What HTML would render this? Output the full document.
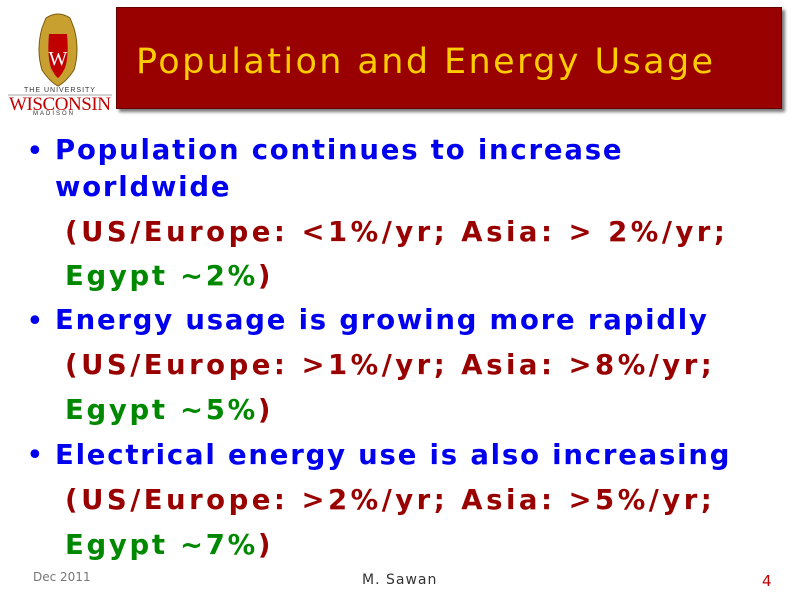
<!DOCTYPE html>
<html><head><style>
body{margin:0;width:800px;height:600px;background:#fff;position:relative;overflow:hidden;font-family:"DejaVu Sans","Liberation Sans",sans-serif}
.hdr{position:absolute;left:116px;top:7px;width:664px;height:100px;background:#990000;border:1px solid #600;box-shadow:3px 3px 3px #777}
.title{position:absolute;left:136px;top:42px;font-size:35px;color:#ffcc00;white-space:nowrap;letter-spacing:2.4px}
.t{position:absolute;font-weight:bold;font-size:27.5px;white-space:nowrap;line-height:30px;letter-spacing:1.8px}
.rl{letter-spacing:3.5px}.gl{letter-spacing:2.7px}
.b{color:#0000ee}.r{color:#990000}.g{color:#008800}
.dot{position:absolute;left:26px;font-size:30px;color:#0000ee;line-height:30px}
</style></head><body>
<svg style="position:absolute;left:6px;top:10px" width="108" height="104">
<path d="M40 8 Q52 0 64 8 L68 18 Q74 40 68 60 Q60 72 52 76 Q44 72 36 60 Q30 40 36 18Z" fill="#c8a030" stroke="#7a5a10"/>
<path d="M43 24 L61 24 Q63 46 59 58 Q55 66 52 68 Q49 66 45 58 Q41 46 43 24Z" fill="#c00000"/>
<text x="52" y="55" font-size="20" fill="#fff" text-anchor="middle" font-family="Liberation Serif">W</text>
<text x="54" y="82" font-size="7" fill="#333" text-anchor="middle" font-family="Liberation Sans" letter-spacing="1">THE UNIVERSITY</text>
<text x="54" y="100" font-size="19" fill="#c00000" text-anchor="middle" font-family="Liberation Serif" textLength="102">WISCONSIN</text>
<line x1="2" y1="85" x2="106" y2="85" stroke="#888" stroke-width="0.7"/>
</svg>
<div style="position:absolute;left:33px;top:111px;font-size:6px;letter-spacing:2px;color:#333;font-family:'Liberation Sans'">MADISON</div>
<div class="hdr"></div>
<div class="title">Population and Energy Usage</div>
<div class="dot" style="top:137px">•</div>
<div class="t b" style="left:55px;top:135px">Population continues to increase</div>
<div class="t b" style="left:55px;top:172px">worldwide</div>
<div class="t r rl" style="left:65px;top:217px">(US/Europe: &lt;1%/yr; Asia: &gt; 2%/yr;</div>
<div class="t gl" style="left:65px;top:261px"><span class="g">Egypt ~2%</span><span class="r">)</span></div>
<div class="dot" style="top:307px">•</div>
<div class="t b" style="left:55px;top:305px">Energy usage is growing more rapidly</div>
<div class="t r rl" style="left:65px;top:350px">(US/Europe: &gt;1%/yr; Asia: &gt;8%/yr;</div>
<div class="t gl" style="left:65px;top:395px"><span class="g">Egypt ~5%</span><span class="r">)</span></div>
<div class="dot" style="top:441px">•</div>
<div class="t b" style="left:55px;top:440px">Electrical energy use is also increasing</div>
<div class="t r rl" style="left:65px;top:485px">(US/Europe: &gt;2%/yr; Asia: &gt;5%/yr;</div>
<div class="t gl" style="left:65px;top:530px"><span class="g">Egypt ~7%</span><span class="r">)</span></div>
<div style="position:absolute;left:33px;top:570px;font-size:12px;color:#777">Dec 2011</div>
<div style="position:absolute;left:362px;top:572px;font-size:14px;color:#333;letter-spacing:1px">M. Sawan</div>
<div style="position:absolute;left:762px;top:572px;font-size:15px;color:#c00000">4</div>
</body></html>
